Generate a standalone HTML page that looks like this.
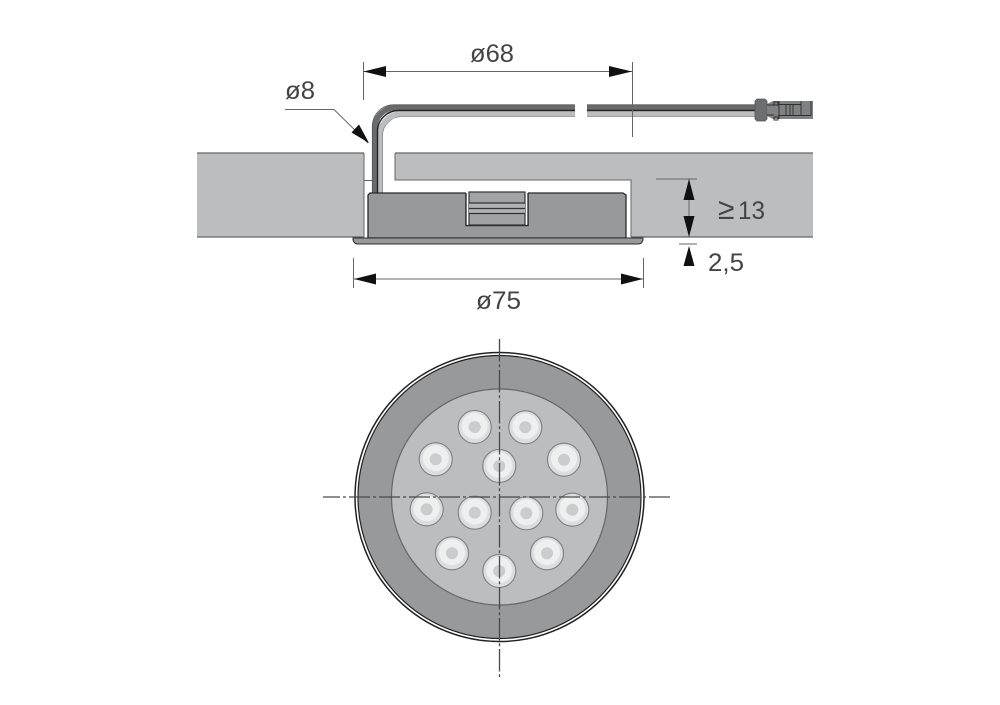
<!DOCTYPE html>
<html>
<head>
<meta charset="utf-8">
<style>
html,body{margin:0;padding:0;background:#fff}
svg{display:block}
text{font-family:"Liberation Sans",sans-serif;font-size:25px;fill:#444}
</style>
</head>
<body>
<svg width="1000" height="705" viewBox="0 0 1000 705" xmlns="http://www.w3.org/2000/svg">
<!-- slab -->
<path d="M197 153H364V237H197Z" fill="#bcbdbf"/>
<path d="M395 153H813V237H631V180H395Z" fill="#bcbdbf"/>
<path d="M197 153H364M395 153H813" stroke="#666" stroke-width="1.200" fill="none"/>
<path d="M197 237H364M631 237H813" stroke="#666" stroke-width="1.200" fill="none"/>
<path d="M364 153V237M395 153V180H631V237" stroke="#666" stroke-width="1" fill="none"/>
<path d="M364 180.500H372" stroke="#666" stroke-width="1" fill="none"/>

<!-- cable -->
<path d="M374.800 193V128A21 21 0 0 1 396 107.500H575M587 107.500H755" stroke="#6a6b6d" stroke-width="5.500" fill="none"/>
<path d="M380 193V134A21 21 0 0 1 401 113.800H575M587 113.800H755" stroke="#bcbdbf" stroke-width="5" fill="none"/>
<path d="M377.500 193V131A21 21 0 0 1 398.500 110.500H575M587 110.500H755" stroke="#222" stroke-width="1.400" fill="none"/>
<path d="M372.300 193V126A21.500 21.500 0 0 1 394 104.800H575M587 104.800H755" stroke="#555" stroke-width="0.800" fill="none"/>
<path d="M382.500 193V136A19.500 19.500 0 0 1 402 116.500H575M587 116.500H755" stroke="#888" stroke-width="0.800" fill="none"/>

<!-- connector -->
<path d="M757 99H765L767 101V119L765 121H757L755 119V101Z" fill="#6d6e70" stroke="#555" stroke-width="0.800"/>
<path d="M767 104L773 101H789V101H813V119H773L767 116Z" fill="#808183"/>
<path d="M767 105H774M767 115H774M774 102H778V105H774ZM774 117H778V120H774ZM778 104.500H801V115.500H778M801 101V104.500M779 101V119M778 115.500H811V101M786 105V115M790 105V115M793 105V115" stroke="#2f2f2f" stroke-width="0.900" fill="none"/>

<!-- housing -->
<path d="M368 238V195L370 193H466V225.500H528V193H623L626 195V238Z" fill="#98999b" stroke="#2a2a2a" stroke-width="1.300"/>
<rect x="466" y="192" width="62" height="33" fill="#fff"/>
<path d="M466 193V225.500H528V193" fill="none" stroke="#2a2a2a" stroke-width="1.300"/>
<rect x="469" y="192" width="56" height="33" fill="#a2a3a5" stroke="#333" stroke-width="1.200"/>
<rect x="469" y="203.500" width="56" height="9.500" fill="#b0b1b3"/>
<path d="M469 203H525M469 208.500H525M469 213.500H525" stroke="#333" stroke-width="1.200" fill="none"/>
<!-- flange -->
<path d="M353 238H643V240Q642 244 638 244H358Q354 244 353 240Z" fill="#98999b" stroke="#2a2a2a" stroke-width="1"/>

<!-- dimension lines -->
<g stroke="#666" stroke-width="1" fill="none">
<path d="M363.500 62V100M632.500 62V137M363 71.500H632"/>
<path d="M353.500 258V288M643.500 258V288M354 279H643"/>
<path d="M656 179H697M689 179V237M679 244H697"/>
<path d="M285 109.500H334L368 143"/>
</g>
<g fill="#111">
<path d="M363.500 71.500L386 66V77Z"/>
<path d="M632 71.500L609 66V77Z"/>
<path d="M354 279L376 273.500V284.500Z"/>
<path d="M643 279L621 273.500V284.500Z"/>
<path d="M689 179L683.500 200H694.500Z"/>
<path d="M689 237L683.500 216H694.500Z"/>
<path d="M689 246L683.500 266H694.500Z"/>
<path d="M369 143L351.500 132.500L359 124.500Z"/>
</g>

<!-- labels -->
<text x="470" y="62" textLength="44" lengthAdjust="spacingAndGlyphs">ø68</text>
<text x="285" y="99" textLength="30" lengthAdjust="spacingAndGlyphs">ø8</text>
<text x="476" y="309" textLength="45" lengthAdjust="spacingAndGlyphs">ø75</text>
<text x="718" y="219" style="font-size:30px">≥</text>
<text x="738" y="219" textLength="27" lengthAdjust="spacingAndGlyphs">13</text>
<text x="708" y="271" textLength="36" lengthAdjust="spacingAndGlyphs">2,5</text>

<!-- front view -->
<circle cx="499.500" cy="497" r="144.500" fill="#fff" stroke="#222" stroke-width="1.500"/>
<circle cx="499.500" cy="497" r="141.500" fill="#98999b" stroke="#222" stroke-width="1.200"/>
<circle cx="499.500" cy="497" r="108" fill="#bcbdbf" stroke="#666" stroke-width="1.200"/>
<defs>
<g id="led">
<circle r="16.500" fill="#dcddde" stroke="#7d7e80" stroke-width="1.100"/>
<circle r="13" cy="-1" fill="#eeefef"/>
<circle r="6" fill="#cbcccd"/>
</g>
</defs>
<use href="#led" x="474.700" y="427"/>
<use href="#led" x="525.300" y="427.300"/>
<use href="#led" x="435.700" y="459.300"/>
<use href="#led" x="499.300" y="466"/>
<use href="#led" x="564" y="459.700"/>
<use href="#led" x="426.700" y="509.300"/>
<use href="#led" x="474.700" y="512.700"/>
<use href="#led" x="526.300" y="513.300"/>
<use href="#led" x="572.300" y="509.700"/>
<use href="#led" x="452" y="553.300"/>
<use href="#led" x="547" y="553.300"/>
<use href="#led" x="499.300" y="571"/>

<!-- centre lines -->
<g stroke="#4a4a4a" stroke-width="1.300" fill="none">
<path d="M323 497H672" stroke-dasharray="21 3 3 3" stroke-dashoffset="4"/>
<path d="M499.500 339V677" stroke-dasharray="22.500 2.700 3 2.800"/>
</g>
</svg>
</body>
</html>
